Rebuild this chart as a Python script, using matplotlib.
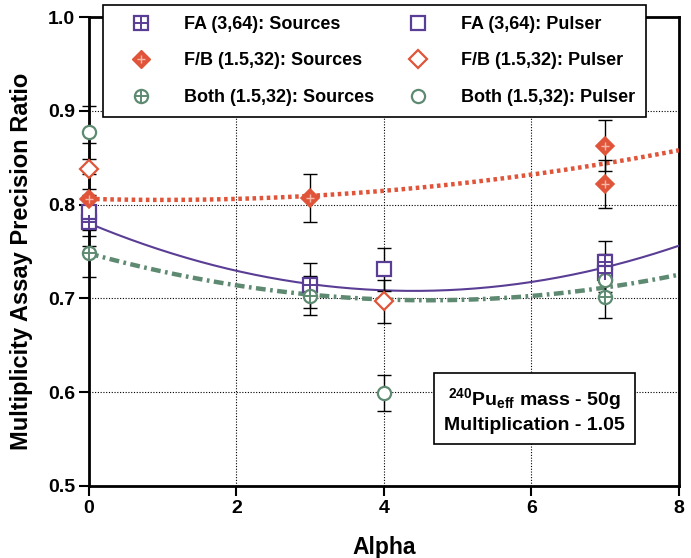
import numpy as np
import matplotlib
matplotlib.use("Agg")
import matplotlib.pyplot as plt
from matplotlib.lines import Line2D
from matplotlib.legend_handler import HandlerTuple

plt.rcParams['font.family'] = ['Liberation Sans', 'DejaVu Sans']
plt.rcParams['font.weight'] = 'bold'
plt.rcParams['mathtext.fontset'] = 'custom'
plt.rcParams['mathtext.bf'] = 'Liberation Sans:bold'
plt.rcParams['mathtext.rm'] = 'Liberation Sans:bold'
plt.rcParams['mathtext.default'] = 'bf'

# ---- data ----
fa_src_x = [0, 3, 7, 7]
fa_src_y = [0.781, 0.714, 0.739, 0.727]
fa_src_err = [0.025, 0.024, 0.022, 0.02]

fa_pul_x = [0, 4]
fa_pul_y = [0.792, 0.731]
fa_pul_err = [0.025, 0.023]

fb_src_x = [0, 3, 7, 7]
fb_src_y = [0.806, 0.807, 0.863, 0.822]
fb_src_err = [0.027, 0.026, 0.027, 0.026]

fb_pul_x = [0, 4]
fb_pul_y = [0.838, 0.697]
fb_pul_err = [0.028, 0.023]

both_src_x = [0, 3, 7]
both_src_y = [0.748, 0.703, 0.701]
both_src_err = [0.025, 0.021, 0.022]

both_pul_x = [0, 4, 7]
both_pul_y = [0.877, 0.599, 0.720]
both_pul_err = [0.028, 0.019, 0.02]

# quadratic fit curves: a*(x-h)^2 + k  -> [a, h, k]
fit_fa = [0.00372, 4.4, 0.708]
fit_fb = [0.00108, 1.0, 0.805]
fit_both = [0.00236, 4.6, 0.698]

labels = ["FA (3,64): Sources", "FA (3,64): Pulser",
          "F/B (1.5,32): Sources", "F/B (1.5,32): Pulser",
          "Both (1.5,32): Sources", "Both (1.5,32): Pulser"]

x_ticks = [0, 2, 4, 6, 8]
y_ticks = [0.5, 0.6, 0.7, 0.8, 0.9, 1.0]
y_ticklabels = ["0.5", "0.6", "0.7", "0.8", "0.9", "1.0"]

c_fa = "#5a3d94"
c_fb = "#e0553a"
c_both = "#5f8a72"
c_fb_light = "#f6b9a8"

fig = plt.figure(figsize=(6.91, 5.58), dpi=100)
ax = fig.add_axes([89/691, 1-486/558, 590/691, 469/558])

ax.set_xlim(0, 8)
ax.set_ylim(0.5, 1.0)
ax.set_xticks(x_ticks)
ax.set_yticks(y_ticks)
ax.set_yticklabels(y_ticklabels)
ax.grid(True, color='black', linestyle=(0, (1, 1.5)), linewidth=0.8, zorder=0)
ax.set_axisbelow(True)
for s in ax.spines.values():
    s.set_linewidth(2.0)
ax.tick_params(direction='out', length=7, width=1.5, labelsize=14, pad=3)
for lab in ax.get_xticklabels() + ax.get_yticklabels():
    lab.set_fontweight('bold')

xx = np.linspace(0, 8, 300)
def quad(p):
    return p[0] * (xx - p[1]) ** 2 + p[2]

ax.plot(xx, quad(fit_fa), color=c_fa, lw=1.5, zorder=3)
ax.plot(xx, quad(fit_fb), color=c_fb, lw=3.2, linestyle=(0, (0.8, 0.8)), zorder=3)
ax.plot(xx, quad(fit_both), color=c_both, lw=3.2, linestyle=(0, (2.2, 1.0, 0.6, 1.0)), zorder=3)

# error bars
for xs, ys, es in [(fa_src_x, fa_src_y, fa_src_err), (fa_pul_x, fa_pul_y, fa_pul_err),
                   (fb_src_x, fb_src_y, fb_src_err), (fb_pul_x, fb_pul_y, fb_pul_err),
                   (both_src_x, both_src_y, both_src_err), (both_pul_x, both_pul_y, both_pul_err)]:
    ax.errorbar(xs, ys, yerr=es, fmt='none', ecolor='black', elinewidth=1.0,
                capsize=5, capthick=1.0, zorder=4, clip_on=False)

ms_sq, ms_di, ms_ci = 10, 9, 9.5
# markers
ax.plot(fa_src_x, fa_src_y, 's', ms=ms_sq, mfc='white', mec=c_fa, mew=1.6, ls='none', zorder=5, clip_on=False)
ax.plot(fa_src_x, fa_src_y, '+', ms=ms_sq, mec=c_fa, mew=1.4, ls='none', zorder=6, clip_on=False)
ax.plot(fa_pul_x, fa_pul_y, 's', ms=ms_sq, mfc='white', mec=c_fa, mew=1.6, ls='none', zorder=5, clip_on=False)

ax.plot(fb_src_x, fb_src_y, 'D', ms=ms_di, mfc=c_fb, mec=c_fb, mew=1.2, ls='none', zorder=5, clip_on=False)
ax.plot(fb_src_x, fb_src_y, '+', ms=6, mec=c_fb_light, mew=1.0, ls='none', zorder=6, clip_on=False)
ax.plot(fb_pul_x, fb_pul_y, 'D', ms=ms_di, mfc='white', mec=c_fb, mew=1.6, ls='none', zorder=5, clip_on=False)

ax.plot(both_pul_x, both_pul_y, 'o', ms=ms_ci, mfc='white', mec=c_both, mew=1.6, ls='none', zorder=5, clip_on=False)
ax.plot(both_src_x, both_src_y, 'o', ms=ms_ci, mfc='white', mec=c_both, mew=1.6, ls='none', zorder=5, clip_on=False)
ax.plot(both_src_x, both_src_y, '+', ms=ms_ci, mec=c_both, mew=1.4, ls='none', zorder=6, clip_on=False)

# legend handles
lm = 1.0
h_fa_s = (Line2D([], [], marker='s', ms=ms_sq*lm, mfc='white', mec=c_fa, mew=1.6, ls='none'),
          Line2D([], [], marker='+', ms=ms_sq*lm, mec=c_fa, mew=1.4, ls='none'))
h_fa_p = Line2D([], [], marker='s', ms=ms_sq*lm, mfc='white', mec=c_fa, mew=1.6, ls='none')
h_fb_s = (Line2D([], [], marker='D', ms=ms_di*lm, mfc=c_fb, mec=c_fb, ls='none'),
          Line2D([], [], marker='+', ms=6, mec=c_fb_light, mew=1.0, ls='none'))
h_fb_p = Line2D([], [], marker='D', ms=ms_di*lm, mfc='white', mec=c_fb, mew=1.6, ls='none')
h_bo_s = (Line2D([], [], marker='o', ms=ms_ci*lm, mfc='white', mec=c_both, mew=1.6, ls='none'),
          Line2D([], [], marker='+', ms=ms_ci*lm, mec=c_both, mew=1.4, ls='none'))
h_bo_p = Line2D([], [], marker='o', ms=ms_ci*lm, mfc='white', mec=c_both, mew=1.6, ls='none')

handles = [h_fa_s, h_fb_s, h_bo_s, h_fa_p, h_fb_p, h_bo_p]
leg_labels = [labels[0], labels[2], labels[4], labels[1], labels[3], labels[5]]
leg = ax.legend(handles, leg_labels, ncol=2, loc='upper left',
                bbox_to_anchor=(14/590, (486-5)/469),
                handler_map={tuple: HandlerTuple(ndivide=1)},
                prop={'weight': 'bold', 'size': 13}, frameon=True, fancybox=False,
                edgecolor='black', framealpha=1.0, borderpad=0.6, labelspacing=1.08,
                handlelength=3.0, handletextpad=0.9, columnspacing=0.9,
                borderaxespad=0)
leg.get_frame().set_linewidth(1.2)
leg.set_zorder(10)

ax.text(6.04, 0.581, "$^{240}$Pu$_{eff}$ mass - 50g\nMultiplication - 1.05",
        ha='center', va='center', fontsize=14, fontweight='bold', linespacing=1.45,
        bbox=dict(boxstyle='square,pad=0.5', fc='white', ec='black', lw=1.2), zorder=9)

ax.set_xlabel("Alpha", fontsize=16.5, fontweight='bold', labelpad=14)
ax.set_ylabel("Multiplicity Assay Precision Ratio", fontsize=17, fontweight='bold')
ax.yaxis.set_label_coords(-0.095, 0.478)

fig.savefig("out.png", dpi=100)
